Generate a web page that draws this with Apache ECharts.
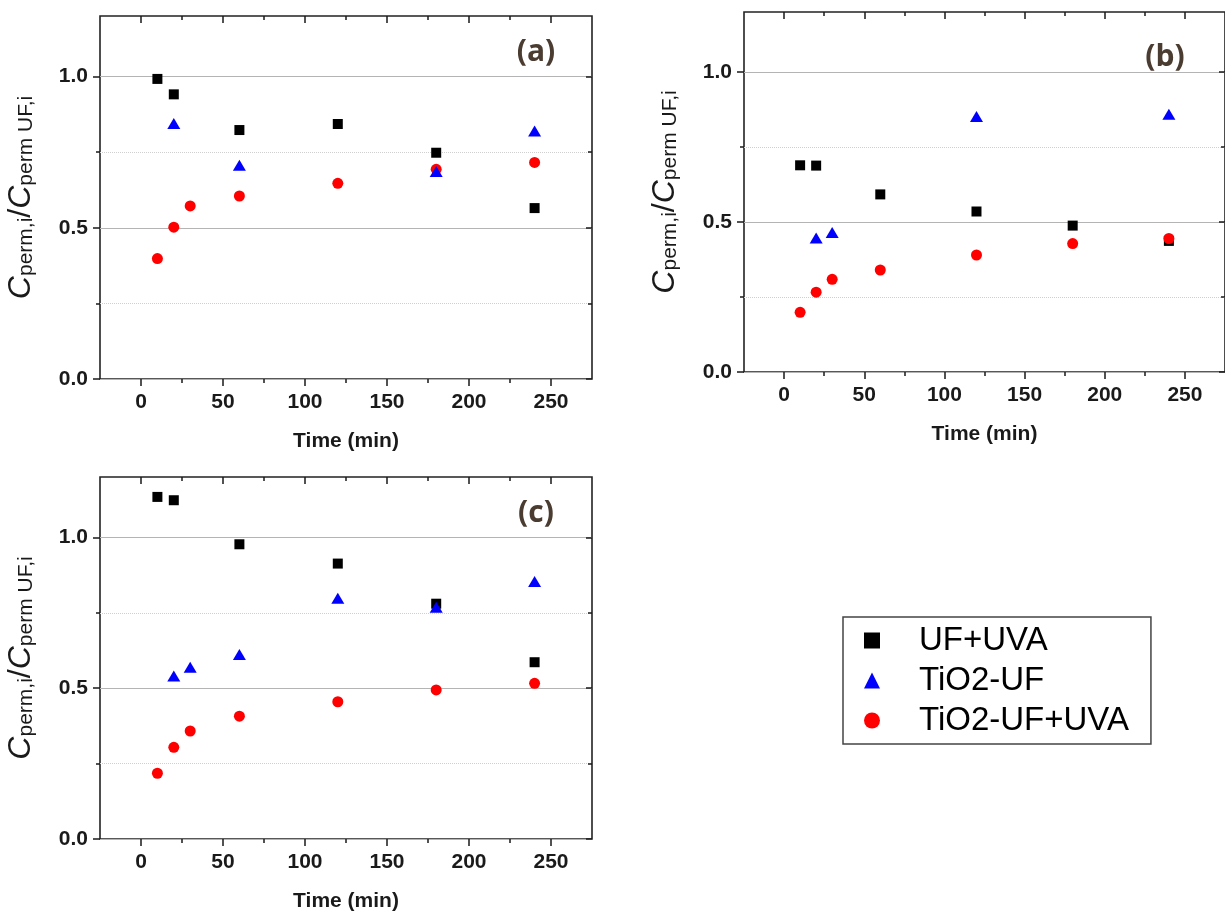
<!DOCTYPE html>
<html>
<head>
<meta charset="utf-8">
<script src="https://cdn.jsdelivr.net/npm/echarts@6/dist/echarts.min.js"></script>
<style>
  html, body { margin: 0; padding: 0; background: #fff; }
  #chart { width: 1225px; height: 913px; }
</style>
</head>
<body>
<div id="chart"></div>
<script>
// sampling times (min)
var times = [10, 20, 30, 60, 120, 180, 240];
var xTicks = [0, 50, 100, 150, 200, 250];
var xMinorTicks = [25, 75, 125, 175, 225];
var yTicks = [0, 0.5, 1.0];
var yMinorTicks = [0.25, 0.75];
var seriesNames = ['UF+UVA', 'TiO2-UF', 'TiO2-UF+UVA'];
var panelLabels = ['(a)', '(b)', '(c)'];

// panel (a)
var aUfUva = [0.992, 0.941, null, 0.823, 0.843, 0.748, 0.565];
var aTio2Uf = [null, 0.845, null, 0.707, null, 0.686, 0.82];
var aTio2UfUva = [0.398, 0.502, 0.572, 0.605, 0.647, 0.693, 0.716];
// panel (b)
var bUfUva = [0.689, 0.688, null, 0.592, 0.535, 0.488, 0.437];
var bTio2Uf = [null, 0.447, 0.465, null, 0.852, null, 0.859];
var bTio2UfUva = [0.199, 0.266, 0.309, 0.34, 0.39, 0.428, 0.445];
// panel (c)
var cUfUva = [1.134, 1.123, null, 0.977, 0.913, 0.78, 0.586];
var cTio2Uf = [null, 0.54, 0.569, 0.612, 0.798, 0.768, 0.854];
var cTio2UfUva = [0.218, 0.304, 0.358, 0.407, 0.455, 0.494, 0.516];

var panels = [
  [aUfUva, aTio2Uf, aTio2UfUva],
  [bUfUva, bTio2Uf, bTio2UfUva],
  [cUfUva, cTio2Uf, cTio2UfUva]
];

var grids = [
  { left: 100, top: 16, width: 492, height: 363 },
  { left: 744, top: 12, width: 489, height: 360 },
  { left: 100, top: 477, width: 492, height: 363 }
];
var labelPos = [[536, 52], [1165, 57], [536, 513]];

var font = 'Liberation Sans, Arial, sans-serif';
var ink = '#1a1a1a';

function pairs(vals) {
  var out = [];
  times.forEach(function (t, i) {
    if (vals[i] != null) out.push([t, vals[i]]);
  });
  return out;
}

var xAxes = [], yAxes = [], series = [], graphics = [];

grids.forEach(function (g, gi) {
  var xBase = { gridIndex: gi, type: 'value', min: -25, max: 275, interval: 25,
    splitLine: { show: false }, axisLine: { show: false, onZero: false } };
  var yBase = { gridIndex: gi, type: 'value', min: 0, max: 1.2,
    axisLine: { show: false, onZero: false } };

  // bottom, main: labels + major ticks + name
  xAxes.push(Object.assign({}, xBase, {
    position: 'bottom',
    name: 'Time (min)', nameLocation: 'middle', nameGap: 52,
    nameTextStyle: { fontSize: 21, fontWeight: 'bold', fontFamily: font, color: ink },
    axisTick: { show: true, length: 7, customValues: xTicks, lineStyle: { color: ink, width: 1.5 } },
    axisLabel: { show: true, margin: 13, fontSize: 21, fontWeight: 'bold', fontFamily: font, color: ink,
      customValues: xTicks }
  }));
  // bottom, minor ticks
  xAxes.push(Object.assign({}, xBase, {
    position: 'bottom',
    axisTick: { show: true, length: 4, customValues: xMinorTicks, lineStyle: { color: ink, width: 1.5 } },
    axisLabel: { show: false }
  }));
  // top, major ticks inside
  xAxes.push(Object.assign({}, xBase, {
    position: 'top',
    axisTick: { show: true, inside: true, length: 7, customValues: xTicks, lineStyle: { color: ink, width: 1.5 } },
    axisLabel: { show: false }
  }));
  // top, minor ticks inside
  xAxes.push(Object.assign({}, xBase, {
    position: 'top',
    axisTick: { show: true, inside: true, length: 4, customValues: xMinorTicks, lineStyle: { color: ink, width: 1.5 } },
    axisLabel: { show: false }
  }));

  // left, minor: dotted grid lines + minor ticks
  yAxes.push(Object.assign({}, yBase, {
    position: 'left', interval: 0.25,
    splitLine: { show: true, lineStyle: { color: '#cfcfcf', type: 'dotted', width: 1 } },
    axisTick: { show: true, length: 4, customValues: yMinorTicks, lineStyle: { color: ink, width: 1.5 } },
    axisLabel: { show: false }
  }));
  // left, main: labels, solid grid lines, major ticks, name
  yAxes.push(Object.assign({}, yBase, {
    position: 'left', interval: 0.5,
    name: '{c|C}{s|perm,i}{n|/}{c|C}{s|perm UF,i}',
    nameLocation: 'middle', nameRotate: 90, nameGap: 63,
    nameTextStyle: {
      rich: {
        c: { fontSize: 32, fontStyle: 'italic', fontFamily: font, color: ink, lineHeight: 36, verticalAlign: 'bottom' },
        n: { fontSize: 32, fontFamily: font, color: ink, lineHeight: 36, verticalAlign: 'bottom' },
        s: { fontSize: 21, fontFamily: font, color: ink, lineHeight: 21, verticalAlign: 'bottom' }
      }
    },
    splitLine: { show: true, lineStyle: { color: '#b4b4b4', width: 1 } },
    axisTick: { show: true, length: 7, customValues: yTicks, lineStyle: { color: ink, width: 1.5 } },
    axisLabel: { show: true, margin: 12, fontSize: 21, fontWeight: 'bold', fontFamily: font, color: ink,
      customValues: yTicks,
      formatter: function (v) { return v.toFixed(1); } }
  }));
  // right, major ticks inside
  yAxes.push(Object.assign({}, yBase, {
    position: 'right', interval: 0.5, splitLine: { show: false },
    axisTick: { show: true, inside: true, length: 6, customValues: yTicks, lineStyle: { color: ink, width: 1.5 } },
    axisLabel: { show: false }
  }));
  // right, minor ticks inside
  yAxes.push(Object.assign({}, yBase, {
    position: 'right', interval: 0.25, splitLine: { show: false },
    axisTick: { show: true, inside: true, length: 4, customValues: yMinorTicks, lineStyle: { color: ink, width: 1.5 } },
    axisLabel: { show: false }
  }));

  var d = panels[gi];
  // draw order: squares, circles, triangles on top
  var order = [0, 2, 1];
  var symbols = ['rect', 'triangle', 'circle'];
  var sizes = [10, [13, 11], 11];
  var colors = ['#000000', '#0000ff', '#ff0000'];
  order.forEach(function (k) {
    series.push({
      name: seriesNames[k],
      type: 'scatter',
      xAxisIndex: gi * 4,
      yAxisIndex: gi * 4 + 1,
      symbol: symbols[k],
      symbolSize: sizes[k],
      itemStyle: { color: colors[k], opacity: 1 },
      data: pairs(d[k])
    });
  });

  graphics.push({
    type: 'text',
    x: labelPos[gi][0], y: labelPos[gi][1],
    style: {
      text: panelLabels[gi],
      font: 'bold 30px "Open Sans", "Noto Sans", sans-serif',
      fill: '#4a3c30',
      textAlign: 'center', textVerticalAlign: 'middle'
    }
  });
});

var chart = echarts.init(document.getElementById('chart'));
chart.setOption({
  animation: false,
  backgroundColor: '#ffffff',
  grid: grids.map(function (g) {
    return Object.assign({ show: true, borderColor: '#222', borderWidth: 1.6,
      backgroundColor: 'transparent', containLabel: false }, g);
  }),
  xAxis: xAxes,
  yAxis: yAxes,
  legend: {
    orient: 'vertical',
    left: 843, top: 617,
    data: [
      { name: 'UF+UVA', icon: 'rect' },
      { name: 'TiO2-UF', icon: 'triangle' },
      { name: 'TiO2-UF+UVA', icon: 'circle' }
    ],
    itemWidth: 16, itemHeight: 16, itemGap: 7,
    padding: [7, 22, 7, 21],
    borderColor: '#444', borderWidth: 1.5,
    selectedMode: false,
    textStyle: { fontSize: 33, fontFamily: font, color: '#000', padding: [0, 0, 0, 34] }
  },
  graphic: graphics,
  series: series
});
</script>
</body>
</html>
